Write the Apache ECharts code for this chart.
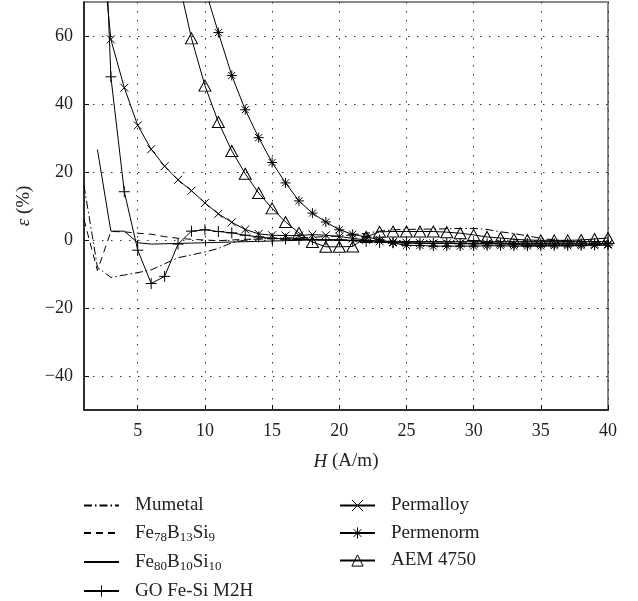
<!DOCTYPE html>
<html><head><meta charset="utf-8">
<script src="https://cdn.jsdelivr.net/npm/echarts@6/dist/echarts.min.js"></script>
<style>html,body{margin:0;padding:0;background:#fff}#c{width:638px;height:601px}</style>
</head><body><div id="c"></div>
<script>
const H = [1,2,3,4,5,6,7,8,9,10,11,12,13,14,15,16,17,18,19,20,21,22,23,24,25,26,27,28,29,30,31,32,33,34,35,36,37,38,39,40];
const xTicks = [5,10,15,20,25,30,35,40];
const yTicks = [-40,-20,0,20,40,60];

const mumetal   = [16,-8,-11,-10.3,-9.6,-8.8,-7,-5.2,-4.4,-3.5,-2.5,-0.8,0,0.3,0.5,0.6,0.7,0.8,1,1.2,1.5,2,2.6,3,3.1,3.2,3.2,3.3,3.4,3.4,3.1,2.4,1.9,1.2,0.5,0,-0.3,-0.5,-0.5,-0.6];
const fe78      = [6,-9,2.5,2.4,2,1.7,1,0.5,0.2,0,-0.2,0,0.2,0.3,0.3,0.3,0.2,0.2,0.1,0,0,-0.2,-0.3,-0.4,-0.5,-0.5,-0.5,-0.6,-0.6,-0.6,-0.6,-0.6,-0.6,-0.6,-0.6,-0.6,-0.6,-0.6,-0.6,-0.6];
const fe80      = [null,26.6,2.6,2.6,-0.8,-1.2,-1.1,-1,-0.9,-0.8,-0.7,-0.6,-0.5,-0.4,-0.3,-0.2,-0.1,0,0,0,-0.1,-0.2,-0.3,-0.4,-0.4,-0.5,-0.5,-0.5,-0.5,-0.5,-0.5,-0.5,-0.5,-0.5,-0.5,-0.5,-0.5,-0.5,-0.5,-0.5];
const goFeSi    = [null,150,48,14.2,-3,-12.8,-10.7,-1.2,2.6,3,2.5,2.1,1.4,0.9,0.5,0.3,0.2,0.1,0,0,-0.2,-0.4,-0.7,-0.8,-0.9,-1,-1,-1,-1.1,-1.1,-1.1,-1.1,-1.1,-1.1,-1.1,-1.1,-1.1,-1.1,-1.1,-1.1];
const permalloy = [null,100,59,44.8,33.7,26.7,21.7,17.7,14.5,10.9,7.7,5.2,3.1,1.8,1.4,1.3,1.3,1.6,1.4,1,0.5,0,-0.4,-0.6,-0.8,-0.9,-1,-1,-1,-1.1,-1.1,-1.1,-1.2,-1.2,-1.2,-1.2,-1.2,-1.2,-1.2,-1.2];
const permenorm = [null,null,null,null,null,null,null,null,null,74,61,48.4,38.3,30.1,22.8,16.8,11.5,7.9,5.3,3,1.7,0.9,0.1,-0.9,-1.6,-1.6,-1.8,-1.8,-1.8,-1.8,-1.7,-1.7,-1.8,-1.8,-1.8,-1.7,-1.7,-1.7,-1.6,-1.5];
const aem4750   = [null,null,null,null,null,null,null,77,59.3,45.4,34.7,26.2,19.5,13.8,9.3,5.3,2.1,-0.6,-2,-2,-1.9,0.9,2.4,2.5,2.5,2.5,2.5,2.3,2,1.5,0.9,0.6,0.2,0,-0.1,-0.1,-0.1,0,0.3,0.6];

function pairs(vals){ const out=[]; vals.forEach((v,i)=>{ if(v!==null) out.push([H[i], v]); }); return out; }

const FONT = 'Liberation Serif';
const PLUS = 'path://M0,5L10,5M5,0L5,10';
const CROSS = 'path://M0,0L10,10M10,0L0,10';
const STAR = 'path://M0,5L10,5M5,0L5,10M1.5,1.5L8.5,8.5M8.5,1.5L1.5,8.5';
const TRI = 'path://M5,0L10,9L0,9Z';

function mk(name, data, lineType, symbol, size){
  return {
    name, type:'line', data: pairs(data), clip:true,
    symbol: symbol || 'none', symbolSize: size || 0, showSymbol: !!symbol,
    lineStyle:{color:'#000', width:1, type: lineType},
    itemStyle:{color:'#000', borderColor:'#000', borderWidth:1},
    emphasis:{disabled:true}, animation:false
  };
}

const series = [
  mk('Mumetal', mumetal, [8,3,1.5,3]),
  mk('Fe78B13Si9', fe78, [7,5]),
  mk('Fe80B10Si10', fe80, 'solid'),
  mk('GO Fe-Si M2H', goFeSi, 'solid', PLUS, 11),
  mk('Permalloy', permalloy, 'solid', CROSS, 8),
  mk('Permenorm', permenorm, 'solid', STAR, 10),
  mk('AEM 4750', aem4750, 'solid', TRI, [12,11])
];
series[6].itemStyle = {color:'rgba(255,255,255,0)', borderColor:'#000', borderWidth:1};

const labelMap = {
  'Fe78B13Si9':'Fe{s|78}B{s|13}Si{s|9}',
  'Fe80B10Si10':'Fe{s|80}B{s|10}Si{s|10}'
};
const legendText = {
  fontFamily: FONT, fontSize: 19, color:'#222', padding:[0,0,0,11], lineHeight:19,
  rich:{ s:{fontFamily:FONT, fontSize:13, color:'#222', padding:[9,0,0,0]} }
};
function legend(left, names){
  return {
    left, top: 496, height: 106, padding: 0, orient:'vertical', itemWidth:35, itemHeight:14, itemGap:8.5,
    textStyle: legendText, itemStyle:{borderWidth:1},
    formatter: n => labelMap[n] || n,
    data: names.map(n => (['Mumetal','Fe78B13Si9','Fe80B10Si10'].includes(n) ? {name:n, itemStyle:{opacity:0}} : {name:n})),
    selectedMode:false
  };
}

const opt = {
  animation:false,
  backgroundColor:'#fff',
  grid:{left:84, right:30, top:2, bottom:191, show:true, borderColor:'#888', borderWidth:2},
  xAxis:[{
    type:'value', min:1, max:40, position:'bottom',
    name:'{i|H} (A/m)', nameLocation:'middle', nameGap:42,
    nameTextStyle:{fontFamily:FONT, fontSize:19, color:'#222', rich:{i:{fontFamily:FONT, fontStyle:'italic', fontSize:19, color:'#222'}}},
    axisLine:{show:true, onZero:false, lineStyle:{color:'#111', width:1.5}},
    axisTick:{show:true, inside:true, length:5, customValues:xTicks, lineStyle:{color:'#111'}},
    axisLabel:{customValues:xTicks, margin:12, fontFamily:FONT, fontSize:18, color:'#222'},
    splitLine:{show:true, lineStyle:{type:[1.5,7.5], color:'#333', width:1}}
  },{
    type:'value', min:1, max:40, position:'top',
    axisLine:{show:false},
    axisTick:{show:true, inside:true, length:5, customValues:xTicks, lineStyle:{color:'#111'}},
    axisLabel:{show:false}, splitLine:{show:false}
  }],
  yAxis:[{
    type:'value', min:-50, max:70, position:'left',
    name:'{i|ε} (%)', nameLocation:'middle', nameGap:49, nameRotate:90,
    nameTextStyle:{fontFamily:FONT, fontSize:19, color:'#222', rich:{i:{fontFamily:FONT, fontStyle:'italic', fontSize:19, color:'#222'}}},
    axisLine:{show:true, onZero:false, lineStyle:{color:'#111', width:1.5}},
    axisTick:{show:true, inside:true, length:5, customValues:yTicks, lineStyle:{color:'#111'}},
    axisLabel:{customValues:yTicks, margin:11, fontFamily:FONT, fontSize:18, color:'#222',
      formatter: v => v < 0 ? '\u2212' + (-v) : String(v)},
    splitLine:{show:true, lineStyle:{type:[1.5,7.5], color:'#333', width:1}}
  }],
  legend:[
    legend(83, ['Mumetal','Fe78B13Si9','Fe80B10Si10','GO Fe-Si M2H']),
    legend(339, ['Permalloy','Permenorm','AEM 4750'])
  ],
  series
};
const chart = echarts.init(document.getElementById('c'), null, {renderer:'canvas'});
chart.setOption(opt);
</script>
</body></html>
